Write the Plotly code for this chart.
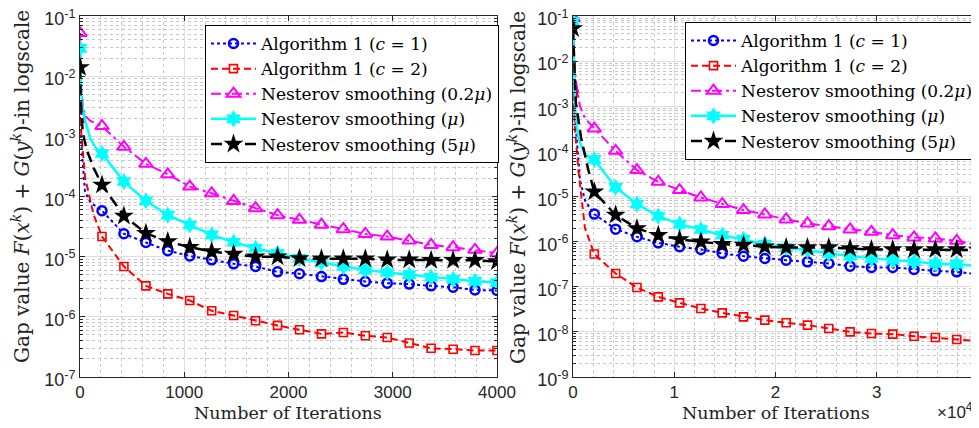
import plotly.graph_objects as go

# page is 979x428; the HTML body has an 8px margin, so the figure is 971x420
PAGE_W, PAGE_H, OFF = 979, 428, 8
W, H = PAGE_W - OFF, PAGE_H - OFF

# ---------------- Left panel data (iterations 0..4000) ----------------
iters_left = [0, 211, 421, 632, 842, 1053, 1263, 1474, 1684, 1895, 2105, 2316,
              2526, 2737, 2947, 3158, 3368, 3579, 3789, 4000]
alg_c1_left = [2.1e-3, 5.8e-5, 2.4e-5, 1.72e-5, 1.26e-5, 1.03e-5, 8.85e-6, 7.6e-6,
               6.85e-6, 5.6e-6, 5.2e-6, 4.67e-6, 4.2e-6, 3.87e-6, 3.63e-6, 3.5e-6,
               3.27e-6, 3.1e-6, 2.8e-6, 2.74e-6]
alg_c2_left = [2.0e-3, 2.16e-5, 6.85e-6, 3.27e-6, 2.41e-6, 1.87e-6, 1.26e-6, 1.05e-6,
               8.6e-7, 7.2e-7, 6.1e-7, 5.2e-7, 5.5e-7, 4.84e-7, 4.54e-7, 3.67e-7,
               3.0e-7, 2.9e-7, 2.76e-7, 2.76e-7]
nest02_left = [5.2e-2, 1.48e-3, 6.7e-4, 3.5e-4, 2.34e-4, 1.46e-4, 1.13e-4, 8.45e-5,
               6.4e-5, 4.9e-5, 4.1e-5, 3.4e-5, 2.86e-5, 2.39e-5, 2.16e-5, 1.85e-5,
               1.57e-5, 1.44e-5, 1.30e-5, 1.14e-5]
nest1_left = [2.9e-2, 5.2e-4, 1.77e-4, 8.5e-5, 4.9e-5, 3.37e-5, 2.3e-5, 1.74e-5,
              1.38e-5, 1.14e-5, 9.4e-6, 7.98e-6, 6.85e-6, 6.0e-6, 5.45e-6, 4.99e-6,
              4.56e-6, 4.2e-6, 3.9e-6, 3.7e-6]
nest5_left = [1.4e-2, 1.56e-4, 4.76e-5, 2.45e-5, 1.78e-5, 1.44e-5, 1.22e-5, 1.11e-5,
              1.0e-5, 1.0e-5, 9.3e-6, 9.2e-6, 9.2e-6, 9.2e-6, 8.85e-6, 8.85e-6,
              8.7e-6, 8.7e-6, 8.7e-6, 8.3e-6]
# extra (unmarked) line points read near the start of each curve
alg_c1_left_early_x = [16, 48, 100]
alg_c1_left_early_y = [6e-4, 1.2e-4, 8e-5]
alg_c2_left_early_x = [10, 30, 50, 80, 130]
alg_c2_left_early_y = [1.2e-3, 4e-4, 2e-4, 1.2e-4, 5e-5]
nest02_left_early_x = [10, 25, 50, 100]
nest02_left_early_y = [8e-3, 3.5e-3, 2.2e-3, 1.8e-3]
nest1_left_early_x = [10, 25, 50, 100, 150]
nest1_left_early_y = [6e-3, 3e-3, 1.8e-3, 9e-4, 6.5e-4]
nest5_left_early_x = [8, 25, 64, 130]
nest5_left_early_y = [4e-3, 1.2e-3, 6e-4, 3e-4]

# ---------------- Right panel data (iterations 0..40000) ----------------
iters_right = [0, 2105, 4211, 6316, 8421, 10526, 12632, 14737, 16842, 18947, 21053,
               23158, 25263, 27368, 29474, 31579, 33684, 35789, 37895, 40000]
alg_c1_right = [2.1e-3, 4.07e-6, 1.89e-6, 1.28e-6, 9.4e-7, 7.7e-7, 6.7e-7, 5.5e-7,
                4.77e-7, 4.23e-7, 3.89e-7, 3.57e-7, 3.28e-7, 2.86e-7, 2.67e-7, 2.67e-7,
                2.41e-7, 2.25e-7, 2.14e-7, 1.9e-7]
alg_c2_right = [2.0e-3, 5.3e-7, 1.97e-7, 9.6e-8, 5.97e-8, 4.4e-8, 3.3e-8, 2.64e-8,
                2.15e-8, 1.82e-8, 1.59e-8, 1.41e-8, 1.19e-8, 1.0e-8, 9.2e-9, 8.9e-9,
                8.0e-9, 7.5e-9, 6.8e-9, 6.3e-9]
nest02_right = [9.0e-2, 3.2e-4, 1.03e-4, 3.85e-5, 2.12e-5, 1.39e-5, 9.5e-6, 6.8e-6,
                5.0e-6, 4.0e-6, 3.1e-6, 2.53e-6, 2.2e-6, 1.86e-6, 1.65e-6, 1.39e-6,
                1.24e-6, 1.18e-6, 1.04e-6, 8.4e-7]
nest1_right = [7.5e-2, 6.6e-5, 1.59e-5, 6.8e-6, 3.67e-6, 2.44e-6, 1.86e-6, 1.39e-6,
               1.12e-6, 8.8e-7, 7.4e-7, 6.5e-7, 5.5e-7, 4.77e-7, 4.23e-7, 3.89e-7,
               3.57e-7, 3.28e-7, 3.17e-7, 2.86e-7]
nest5_right = [5.3e-2, 1.27e-5, 3.87e-6, 1.96e-6, 1.39e-6, 1.12e-6, 9.9e-7, 8.8e-7,
               8.4e-7, 7.7e-7, 7.4e-7, 7.4e-7, 7.4e-7, 7.06e-7, 6.7e-7, 6.7e-7,
               6.7e-7, 6.7e-7, 6.7e-7, 6.5e-7]
alg_c1_right_early_x = [360, 690, 1200]
alg_c1_right_early_y = [1.8e-4, 2.3e-5, 8e-6]
alg_c2_right_early_x = [200, 520, 690, 1180]
alg_c2_right_early_y = [3e-4, 4e-5, 2e-5, 2e-6]
nest02_right_early_x = [100, 270, 690, 1180]
nest02_right_early_y = [1.5e-2, 3.8e-3, 1.0e-3, 5.4e-4]
nest1_right_early_x = [100, 200, 360, 520, 1180]
nest1_right_early_y = [1e-2, 1e-3, 4.2e-4, 2e-4, 8.3e-5]
nest5_right_early_x = [100, 280, 800, 1500]
nest5_right_early_y = [1e-2, 1.2e-3, 2e-4, 4e-5]

legend_names = ["Algorithm 1 (<i>c</i> = 1)", "Algorithm 1 (<i>c</i> = 2)",
                "Nesterov smoothing (0.2<i>μ</i>)", "Nesterov smoothing (<i>μ</i>)",
                "Nesterov smoothing (5<i>μ</i>)"]

styles = [
    dict(color="#0000ff", dash="dot", width=2, symbol="circle-open", size=9, mlw=2.5),
    dict(color="#ff0000", dash="7px,4px", width=2, symbol="square-open", size=8, mlw=1.6),
    dict(color="#ff00ff", dash="10px,4px,3px,4px", width=2, symbol="triangle-up-open", size=12, mlw=2),
    dict(color="#00ffff", dash="solid", width=2.5, symbol="hexagram", size=13, mlw=0),
    dict(color="#000000", dash="11px,6px", width=2.5, symbol="star", size=15, mlw=0),
]

left_sets = [
    (alg_c1_left, alg_c1_left_early_x, alg_c1_left_early_y),
    (alg_c2_left, alg_c2_left_early_x, alg_c2_left_early_y),
    (nest02_left, nest02_left_early_x, nest02_left_early_y),
    (nest1_left, nest1_left_early_x, nest1_left_early_y),
    (nest5_left, nest5_left_early_x, nest5_left_early_y),
]
right_sets = [
    (alg_c1_right, alg_c1_right_early_x, alg_c1_right_early_y),
    (alg_c2_right, alg_c2_right_early_x, alg_c2_right_early_y),
    (nest02_right, nest02_right_early_x, nest02_right_early_y),
    (nest1_right, nest1_right_early_x, nest1_right_early_y),
    (nest5_right, nest5_right_early_x, nest5_right_early_y),
]

fig = go.Figure()


def add_panel(iters, sets, xa, ya, legend_id):
    for (vals, ex, ey), st, name in zip(sets, styles, legend_names):
        lx = [iters[0]] + ex + iters[1:]
        ly = [vals[0]] + ey + vals[1:]
        line = dict(color=st["color"], dash=st["dash"], width=st["width"])
        marker = dict(symbol=st["symbol"], size=st["size"], color=st["color"],
                      line=dict(color=st["color"], width=st["mlw"]))
        fig.add_trace(go.Scatter(x=lx, y=ly, mode="lines", line=line,
                                 xaxis=xa, yaxis=ya, showlegend=False, hoverinfo="skip"))
        fig.add_trace(go.Scatter(x=iters, y=vals, mode="markers", marker=marker,
                                 xaxis=xa, yaxis=ya, showlegend=False))
        fig.add_trace(go.Scatter(x=[None], y=[None], mode="lines+markers", line=line,
                                 marker=marker, name=name, xaxis=xa, yaxis=ya,
                                 legend=legend_id, showlegend=True))


add_panel(iters_left, left_sets, "x", "y", "legend")
add_panel(iters_right, right_sets, "x2", "y2", "legend2")

SANS = "Liberation Sans, Arial, sans-serif"
SERIF = "DejaVu Serif, serif"
XTICKFONT = dict(family=SANS, size=17, color="#262626")
YTICKFONT = dict(family=SANS, size=18, color="#262626")

grid_major = "#dedede"
grid_minor = "#c8c8c8"


def log_ticks(lo, hi):
    vals = [10.0 ** e for e in range(lo, hi + 1)]
    txt = ["10<sup>%d</sup>" % e for e in range(lo, hi + 1)]
    minor = [m * 10.0 ** e for e in range(lo, hi) for m in range(2, 10)]
    return vals, txt, minor


ylv, ylt, ylm = log_ticks(-7, -1)
yrv, yrt, yrm = log_ticks(-9, -1)

common_axis = dict(showline=True, mirror="ticks", linecolor="#262626", linewidth=1,
                   ticks="inside", ticklen=5, tickcolor="#262626",
                   showgrid=True, gridcolor=grid_major, automargin=False,
                   gridwidth=1, zeroline=False, ticklabeloverflow="allow")


def px_x(p):
    return (p - OFF) / W


def px_y(p):
    return 1 - (p - OFF) / H


legend_common = dict(xanchor="left", yanchor="top", bgcolor="white",
                     bordercolor="#000000", borderwidth=1,
                     font=dict(family=SERIF, size=17, color="#000000"),
                     itemwidth=45, tracegroupgap=0)

fig.update_layout(
    width=W, height=H, margin=dict(l=0, r=0, t=0, b=0, autoexpand=False),
    paper_bgcolor="white", plot_bgcolor="white",
    font=dict(family=SERIF, size=17, color="#000000"),
    xaxis=dict(domain=[px_x(80), px_x(497)], range=[0, 4000], tickmode="array",
               tickvals=[0, 1000, 2000, 3000, 4000],
               ticktext=["0", "1000", "2000", "3000", "4000"], tickfont=XTICKFONT,
               minor=dict(tickmode="array", tickvals=list(range(200, 4000, 200)),
                          showgrid=True, gridcolor=grid_minor, griddash="dot", ticks=""),
               anchor="y", **common_axis),
    yaxis=dict(domain=[px_y(377), px_y(16)], type="log", range=[-7, -1], tickmode="array",
               tickvals=ylv, ticktext=ylt, tickfont=YTICKFONT, ticklabelshift=3,
               minor=dict(tickmode="array", tickvals=ylm, showgrid=True,
                          gridcolor=grid_minor, griddash="dot", ticks="inside",
                          ticklen=3, tickcolor="#262626"),
               anchor="x", **common_axis),
    xaxis2=dict(domain=[px_x(573), px_x(978)], range=[0, 40000], tickmode="array",
                tickvals=[0, 10000, 20000, 30000, 40000],
                ticktext=["0", "1", "2", "3", "4"], tickfont=XTICKFONT,
                minor=dict(tickmode="array", tickvals=list(range(2000, 40000, 2000)),
                           showgrid=True, gridcolor=grid_minor, griddash="dot", ticks=""),
                anchor="y2", **common_axis),
    yaxis2=dict(domain=[px_y(377), px_y(16)], type="log", range=[-9, -1], tickmode="array",
                tickvals=yrv, ticktext=yrt, tickfont=YTICKFONT, ticklabelshift=3,
                minor=dict(tickmode="array", tickvals=yrm, showgrid=True,
                           gridcolor=grid_minor, griddash="dot", ticks="inside",
                           ticklen=3, tickcolor="#262626"),
                anchor="x2", **common_axis),
    legend=dict(x=px_x(205), y=px_y(25), **legend_common),
    legend2=dict(x=px_x(685), y=px_y(22), **legend_common),
    showlegend=True,
)

ytitle = ("Gap value <i>F</i>(<i>x</i><sup><i>k</i></sup>) + "
          "<i>G</i>(<i>y</i><sup><i>k</i></sup>)-in logscale")
ann_font = dict(family=SERIF, size=17.5, color="#222222")
yt_font = dict(family=SERIF, size=20, color="#222222")
fig.add_annotation(text=ytitle, x=px_x(21), y=px_y(187), xref="paper", yref="paper",
                   textangle=-90, showarrow=False, font=yt_font,
                   xanchor="center", yanchor="middle")
fig.add_annotation(text=ytitle, x=px_x(517), y=px_y(187), xref="paper", yref="paper",
                   textangle=-90, showarrow=False, font=yt_font,
                   xanchor="center", yanchor="middle")
fig.add_annotation(text="Number of Iterations", x=px_x(288), y=px_y(413),
                   xref="paper", yref="paper", showarrow=False, font=ann_font,
                   xanchor="center", yanchor="middle")
fig.add_annotation(text="Number of Iterations", x=px_x(776), y=px_y(413),
                   xref="paper", yref="paper", showarrow=False, font=ann_font,
                   xanchor="center", yanchor="middle")
fig.add_annotation(text="×10<sup>4</sup>", x=px_x(955), y=px_y(411),
                   xref="paper", yref="paper", showarrow=False,
                   font=dict(family=SANS, size=17, color="#262626"),
                   xanchor="center", yanchor="middle")

fig.write_html("out.html")
